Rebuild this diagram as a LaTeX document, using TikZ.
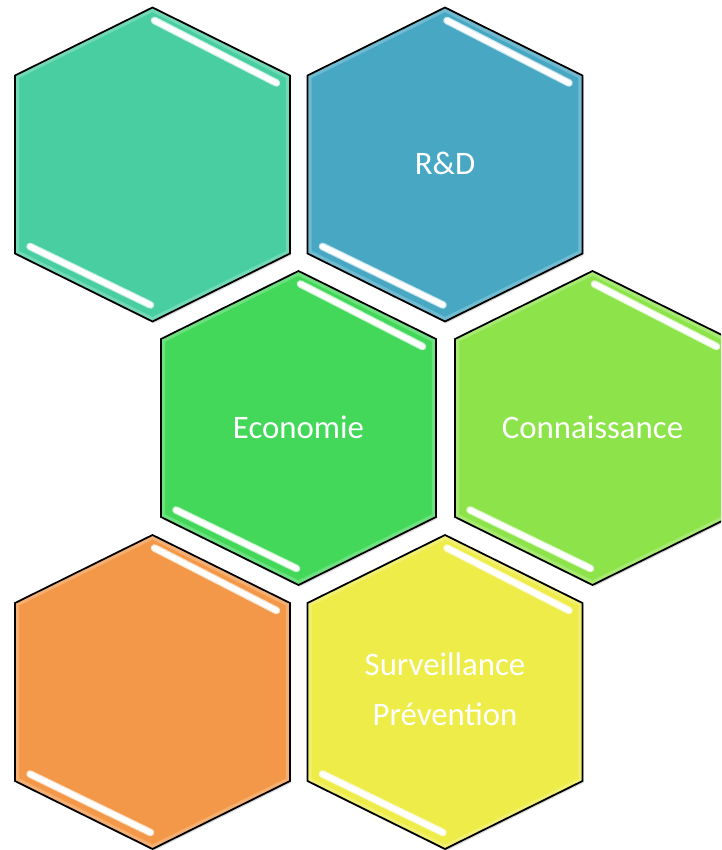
\documentclass[tikz,border=0pt]{standalone}
\usepackage{fontspec}
\setmainfont{Carlito}
\usetikzlibrary{shadows}
\definecolor{tealhex}{RGB}{72,206,160}
\definecolor{bluehex}{RGB}{72,168,196}
\definecolor{greenhex}{RGB}{67,216,90}
\definecolor{limehex}{RGB}{140,228,74}
\definecolor{orangehex}{RGB}{243,152,72}
\definecolor{yellowhex}{RGB}{238,236,72}
\newcommand\hexpath{(0,-157) -- (137.5,-89) -- (137.5,89) -- (0,157) -- (-137.5,89) -- (-137.5,-89) -- cycle}
\tikzset{
	x=0.03cm, y=-0.03cm,
	hexa/.pic = {
		\path[fill=#1, drop shadow={opacity=0.3, shadow xshift=1pt, shadow yshift=-1.5pt}] \hexpath;
		\begin{scope}
			\clip \hexpath;
			\draw[#1!55!white, line width=7pt, opacity=0.5] \hexpath;
		\end{scope}
		\draw[black, line width=1.5pt, line join=miter] \hexpath;
		\draw[#1!30!white, line width=6.5pt, line cap=round] (2,-144) -- (124,-81.5);
		\draw[white, line width=4.5pt, line cap=round] (2,-144) -- (124,-81.5);
		\draw[#1!30!white, line width=6.5pt, line cap=round] (-122.5,82) -- (-2,140.5);
		\draw[white, line width=4.5pt, line cap=round] (-122.5,82) -- (-2,140.5);
	},
	lbl/.style = {text=white, font=\fontsize{28}{42.5}\selectfont, align=center}
}

\begin{document}
\begin{tikzpicture}
	\useasboundingbox (0,0) rectangle (721,850);
	\clip (0,0) rectangle (721,850);
	% row 1
	\pic (tl) at (152.5,164.5) {hexa=tealhex};
	\pic (tr) at (445,164.5) {hexa=bluehex};
	% row 2
	\pic (ml) at (298.5,428) {hexa=greenhex};
	\pic (mr) at (592.5,428) {hexa=limehex};
	% row 3
	\pic (bl) at (152.5,692) {hexa=orangehex};
	\pic (br) at (445,692) {hexa=yellowhex};
	% labels
	\node[lbl] (rd) at (445,163) {R\&D};
	\node[lbl] (eco) at (298.5,427) {Economie};
	\node[lbl] (conn) at (592.5,427) {Connaissance};
	\node[lbl] (surv) at (445,689) {Surveillance\\Prévention};
\end{tikzpicture}
\end{document}
